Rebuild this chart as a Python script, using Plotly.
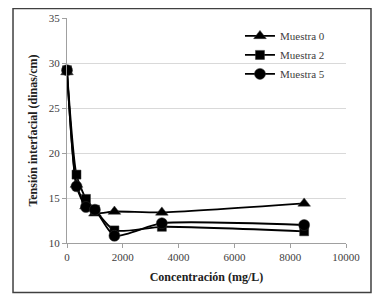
import plotly.graph_objects as go

conc = [0, 340, 680, 1000, 1700, 3400, 8500]
muestra0 = [29.0, 16.5, 14.1, 13.3, 13.5, 13.4, 14.4]
muestra2 = [29.2, 17.6, 14.9, 13.7, 11.4, 11.8, 11.3]
muestra5 = [29.2, 16.3, 14.0, 13.7, 10.8, 12.2, 12.0]
x_ticks = [0, 2000, 4000, 6000, 8000, 10000]
y_ticks = [10, 15, 20, 25, 30, 35]
series = [("Muestra 0", muestra0, "triangle-up", 11),
          ("Muestra 2", muestra2, "square", 9),
          ("Muestra 5", muestra5, "circle", 11)]

font = "Liberation Serif"
fig = go.Figure()
for name, vals, sym, sz in series:
    fig.add_trace(go.Scatter(
        x=conc, y=vals, name=name, mode="lines+markers", cliponaxis=False,
        line=dict(color="black", width=1.8, shape="spline", smoothing=0.6),
        marker=dict(symbol=sym, size=sz, color="black",
                    line=dict(color="#333333", width=0.5)),
    ))

fig.update_layout(
    width=376, height=296,
    margin=dict(l=59, r=38, t=10, b=61),
    paper_bgcolor="white", plot_bgcolor="white",
    font=dict(family=font, size=11, color="#404040"),
    showlegend=True,
    legend=dict(x=0.62, y=0.985, xanchor="left", yanchor="top",
                bgcolor="rgba(0,0,0,0)", font=dict(family=font, size=11, color="#404040"),
                tracegroupgap=0, itemwidth=30),
    xaxis=dict(range=[0, 10000], tickvals=x_ticks, ticktext=[str(v) for v in x_ticks],
               showgrid=False, showline=True, linecolor="#a0a0a0", linewidth=1,
               ticks="outside", ticklen=4, tickcolor="#a0a0a0", automargin=False,
               title=dict(text="<b>Concentración (mg/L)</b>", standoff=10,
                          font=dict(family=font, size=12, color="#202020")),
               zeroline=False, tickfont=dict(family=font, size=11, color="#404040")),
    yaxis=dict(range=[10, 35], tickvals=y_ticks, ticktext=[str(v) for v in y_ticks],
               showgrid=True, gridcolor="#d9d9d9", gridwidth=1,
               showline=True, linecolor="#a0a0a0", linewidth=1,
               ticks="outside", ticklen=4, tickcolor="#a0a0a0", automargin=False,
               title=dict(text="<b>Tensión interfacial (dinas/cm)</b>", standoff=8,
                          font=dict(family=font, size=12, color="#202020")),
               zeroline=False, tickfont=dict(family=font, size=11, color="#404040")),
    shapes=[dict(type="rect", xref="paper", yref="paper",
                 x0=-0.1935, x1=1.0896, y0=-0.22, y1=1.042,
                 line=dict(color="#404040", width=1.5), layer="below")],
)
fig.write_html("out.html")
